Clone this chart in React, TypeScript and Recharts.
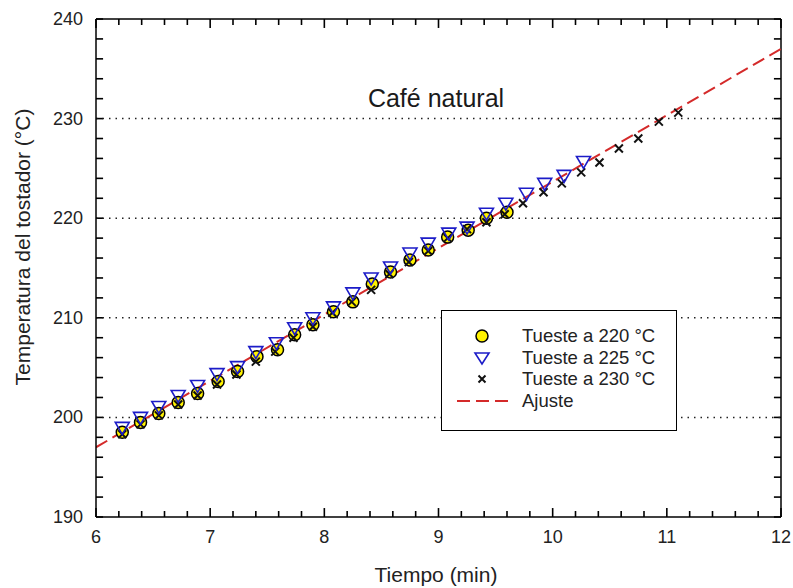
import React from 'react';
import { ComposedChart, Scatter, Line, XAxis, YAxis, ReferenceLine, Legend } from 'recharts';

// tiempo (min) y temperatura (°C) de cada tueste
const t220 = [6.23, 6.39, 6.55, 6.72, 6.89, 7.07, 7.24, 7.41, 7.59, 7.74, 7.9, 8.08, 8.25, 8.42, 8.58, 8.75, 8.91, 9.08, 9.26, 9.42, 9.6];
const temp220 = [198.5, 199.5, 200.4, 201.5, 202.4, 203.6, 204.6, 206.1, 206.8, 208.3, 209.3, 210.6, 211.6, 213.4, 214.6, 215.8, 216.8, 218.1, 218.8, 220.0, 220.6];

const t225 = [6.23, 6.39, 6.55, 6.72, 6.89, 7.06, 7.24, 7.4, 7.58, 7.74, 7.9, 8.08, 8.25, 8.41, 8.58, 8.75, 8.91, 9.09, 9.25, 9.42, 9.59, 9.77, 9.93, 10.1, 10.27];
const temp225 = [199.0, 200.0, 201.1, 202.2, 203.2, 204.4, 205.1, 206.6, 207.5, 209.0, 210.0, 211.1, 212.5, 214.0, 215.1, 216.5, 217.5, 218.5, 219.1, 220.5, 221.5, 222.5, 223.5, 224.3, 225.7];

const t230 = [6.23, 6.39, 6.55, 6.72, 6.89, 7.06, 7.23, 7.4, 7.57, 7.73, 7.9, 8.07, 8.24, 8.41, 8.57, 8.74, 8.91, 9.08, 9.25, 9.42, 9.58, 9.74, 9.92, 10.08, 10.25, 10.41, 10.58, 10.75, 10.93, 11.1];
const temp230 = [198.3, 199.3, 200.2, 201.3, 202.2, 203.3, 204.3, 205.6, 206.6, 208.0, 209.1, 210.5, 211.6, 212.8, 214.4, 215.6, 216.7, 218.0, 218.9, 219.6, 220.4, 221.5, 222.6, 223.5, 224.6, 225.6, 227.0, 228.0, 229.7, 230.6];

// recta de ajuste
const fitT = [6, 12];
const fitTemp = [197.0, 237.0];

const xTicks = [6, 6.2, 6.4, 6.6, 6.8, 7, 7.2, 7.4, 7.6, 7.8, 8, 8.2, 8.4, 8.6, 8.8, 9, 9.2, 9.4, 9.6, 9.8, 10, 10.2, 10.4, 10.6, 10.8, 11, 11.2, 11.4, 11.6, 11.8, 12];
const yTicks = [190, 192, 194, 196, 198, 200, 202, 204, 206, 208, 210, 212, 214, 216, 218, 220, 222, 224, 226, 228, 230, 232, 234, 236, 238, 240];
const gridY = [200, 210, 220, 230];

const X_MIN = 6;
const X_MAX = 12;
const Y_MIN = 190;
const Y_MAX = 240;

const seriesNames = ['Tueste a 220 °C', 'Tueste a 225 °C', 'Tueste a 230 °C', 'Ajuste'];

const toPoints = (xs: number[], ys: number[]) => xs.map((x, i) => ({ x, y: ys[i] }));

const FONT = '"Liberation Sans", Arial, sans-serif';
const YELLOW = '#fff200';
const BLUE = '#1c1cc8';
const RED = '#d42a2a';

const isMajor = (v: number, step: number) => Math.abs(v / step - Math.round(v / step)) < 1e-6;

// largo de las marcas en unidades de datos (~6-9 px y ~7 px)
const xTickLen = (v: number) => (isMajor(v, 1) ? 0.9 : 0.6);
const yTickLen = 0.062;

const Circle = (props: any) => (
  <circle cx={props.cx} cy={props.cy} r={6} fill={YELLOW} stroke="#000" strokeWidth={1.5} />
);

const Triangle = (props: any) => {
  const { cx, cy } = props;
  return (
    <path
      d={`M${cx - 7},${cy - 5} L${cx + 7},${cy - 5} L${cx},${cy + 7} Z`}
      fill="none"
      stroke={BLUE}
      strokeWidth={1.6}
    />
  );
};

const Cross = (props: any) => {
  const { cx, cy } = props;
  return (
    <path d={`M${cx - 4},${cy - 4} L${cx + 4},${cy + 4} M${cx - 4},${cy + 4} L${cx + 4},${cy - 4}`} stroke="#111" strokeWidth={2} />
  );
};

const BottomLabel = (props: any) => {
  const { x, y, payload } = props;
  if (!isMajor(payload.value, 1)) return <g />;
  return (
    <text x={x} y={y + 26} textAnchor="middle" fontFamily={FONT} fontSize={18} fill="#222">
      {payload.value}
    </text>
  );
};

const LeftLabel = (props: any) => {
  const { x, y, payload } = props;
  if (!isMajor(payload.value, 10)) return <g />;
  return (
    <text x={x - 13} y={y + 6} textAnchor="end" fontFamily={FONT} fontSize={18} fill="#222">
      {payload.value}
    </text>
  );
};

const legendMarker = (i: number) => {
  if (i === 0) return <circle cx={20} cy={10} r={6} fill={YELLOW} stroke="#000" strokeWidth={1.5} />;
  if (i === 1) return <path d="M13,5 L27,5 L20,16 Z" fill="none" stroke={BLUE} strokeWidth={1.6} />;
  if (i === 2) return <path d="M16.5,6.5 L23.5,13.5 M16.5,13.5 L23.5,6.5" stroke="#111" strokeWidth={2} />;
  return <line x1={-5} y1={10} x2={47} y2={10} stroke={RED} strokeWidth={2} strokeDasharray="13 6" />;
};

const LegendBox = () => (
  <div
    style={{
      width: 236,
      height: 121,
      border: '1.5px solid #000',
      background: '#fff',
      boxSizing: 'border-box',
      paddingTop: 14,
      fontFamily: FONT,
      fontSize: 18.5,
      color: '#222',
    }}
  >
    {seriesNames.map((name, i) => (
      <div key={name} style={{ display: 'flex', alignItems: 'center', height: 21.7 }}>
        <svg width={40} height={20} style={{ marginLeft: 20, marginRight: 20, overflow: 'visible' }}>
          {legendMarker(i)}
        </svg>
        <span>{name}</span>
      </div>
    ))}
  </div>
);

const frame = { stroke: '#000', strokeWidth: 1.5 };
const tickMark = { stroke: '#000', strokeWidth: 1.6 };

export default function App() {
  return (
    <div style={{ position: 'absolute', left: 0, top: 0, width: 793, height: 588, background: '#fff' }}>
      <svg width={793} height={588} style={{ position: 'absolute', left: 0, top: 0 }}>
        <text x={436} y={107} textAnchor="middle" fontFamily={FONT} fontSize={25} fill="#1a1a1a">
          Café natural
        </text>
        <text x={436} y={582} textAnchor="middle" fontFamily={FONT} fontSize={21} fill="#222">
          Tiempo (min)
        </text>
        <text x={30} y={247} textAnchor="middle" fontFamily={FONT} fontSize={21} fill="#222" transform="rotate(-90 30 247)">
          Temperatura del tostador (°C)
        </text>
      </svg>
      <ComposedChart width={793} height={588} margin={{ top: 19, right: 12, bottom: 0, left: 0 }}>
        <XAxis
          xAxisId="b"
          type="number"
          dataKey="x"
          domain={[X_MIN, X_MAX]}
          ticks={xTicks}
          interval={0}
          allowDataOverflow
          orientation="bottom"
          height={71}
          tickSize={0}
          tickMargin={0}
          axisLine={frame}
          tickLine={false}
          tick={BottomLabel}
        />
        <YAxis
          yAxisId="l"
          type="number"
          domain={[Y_MIN, Y_MAX]}
          ticks={yTicks}
          interval={0}
          allowDataOverflow
          orientation="left"
          width={96}
          tickSize={0}
          tickMargin={0}
          axisLine={frame}
          tickLine={false}
          tick={LeftLabel}
        />
        {/* marco superior y derecho */}
        <ReferenceLine xAxisId="b" yAxisId="l" y={Y_MAX} stroke="#000" strokeWidth={1.5} />
        <ReferenceLine xAxisId="b" yAxisId="l" x={X_MAX} stroke="#000" strokeWidth={1.5} />
        {/* marcas hacia dentro en los cuatro lados */}
        {xTicks.map((v) => (
          <ReferenceLine
            key={`xb${v}`}
            xAxisId="b"
            yAxisId="l"
            segment={[{ x: v, y: Y_MIN }, { x: v, y: Y_MIN + xTickLen(v) }]}
            {...tickMark}
          />
        ))}
        {xTicks.map((v) => (
          <ReferenceLine
            key={`xt${v}`}
            xAxisId="b"
            yAxisId="l"
            segment={[{ x: v, y: Y_MAX }, { x: v, y: Y_MAX - xTickLen(v) }]}
            {...tickMark}
          />
        ))}
        {yTicks.map((v) => (
          <ReferenceLine
            key={`yl${v}`}
            xAxisId="b"
            yAxisId="l"
            segment={[{ x: X_MIN, y: v }, { x: X_MIN + yTickLen, y: v }]}
            {...tickMark}
          />
        ))}
        {yTicks.map((v) => (
          <ReferenceLine
            key={`yr${v}`}
            xAxisId="b"
            yAxisId="l"
            segment={[{ x: X_MAX, y: v }, { x: X_MAX - yTickLen, y: v }]}
            {...tickMark}
          />
        ))}
        {gridY.map((v) => (
          <ReferenceLine key={v} xAxisId="b" yAxisId="l" y={v} stroke="#222" strokeWidth={1.5} strokeDasharray="1.5 5" />
        ))}
        <Scatter xAxisId="b" yAxisId="l" name={seriesNames[0]} data={toPoints(t220, temp220)} dataKey="y" shape={Circle} isAnimationActive={false} />
        <Scatter xAxisId="b" yAxisId="l" name={seriesNames[2]} data={toPoints(t230, temp230)} dataKey="y" shape={Cross} isAnimationActive={false} />
        <Scatter xAxisId="b" yAxisId="l" name={seriesNames[1]} data={toPoints(t225, temp225)} dataKey="y" shape={Triangle} isAnimationActive={false} />
        <Line
          xAxisId="b"
          yAxisId="l"
          name={seriesNames[3]}
          data={toPoints(fitT, fitTemp)}
          dataKey="y"
          type="linear"
          stroke={RED}
          strokeWidth={2}
          strokeDasharray="13 6"
          dot={false}
          activeDot={false}
          isAnimationActive={false}
        />
        <Legend
          layout="horizontal"
          verticalAlign="middle"
          content={() => <LegendBox />}
          wrapperStyle={{ position: 'absolute', left: 441, top: 310, width: 236, height: 121 }}
        />
      </ComposedChart>
    </div>
  );
}
